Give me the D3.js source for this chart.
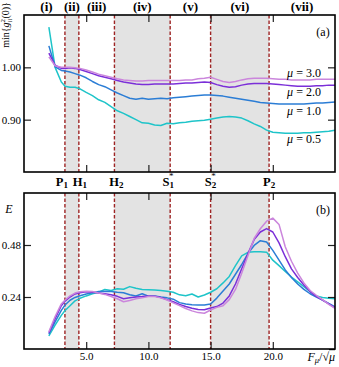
<!DOCTYPE html>
<html>
<head>
<meta charset="utf-8">
<script src="https://cdn.jsdelivr.net/npm/d3@7"></script>
<style>
  body { margin: 0; background: #fff; }
  svg text { font-family: "Liberation Serif", "DejaVu Serif", serif; fill: #000; }
</style>
</head>
<body>
<svg id="chart" width="339" height="367"></svg>
<script>
// shared abscissa F_mu / sqrt(mu)
const force = [2.0, 2.5, 3.0, 3.3, 3.7, 4.1, 4.5, 5.0, 5.5, 6.0, 6.5, 7.0, 7.5, 8.0, 8.5, 9.0,
  9.5, 10.0, 10.5, 11.0, 11.5, 12.0, 12.5, 13.0, 13.5, 14.0, 14.5, 15.0, 15.5, 16.0, 16.5, 17.0,
  17.5, 18.0, 18.5, 19.0, 19.5, 20.0, 20.5, 21.0, 21.5, 22.0, 22.5, 23.0, 23.5, 24.0, 24.5, 25.0];

const muLabels = ['0.5', '1.0', '2.0', '3.0'];

// panel (a): min{g2_ii(0)}
const gMu05 = [1.077, 1.000, 0.972, 0.964, 0.962, 0.962, 0.959, 0.952, 0.946, 0.938, 0.933, 0.925, 0.917, 0.912, 0.906, 0.900,
  0.894, 0.893, 0.890, 0.889, 0.893, 0.892, 0.894, 0.895, 0.897, 0.898, 0.899, 0.901, 0.903, 0.905, 0.906, 0.905,
  0.903, 0.898, 0.892, 0.887, 0.880, 0.876, 0.875, 0.874, 0.874, 0.874, 0.875, 0.875, 0.876, 0.877, 0.878, 0.880];
const gMu10 = [1.041, 1.001, 0.994, 0.993, 0.991, 0.988, 0.985, 0.980, 0.973, 0.967, 0.963, 0.957, 0.951, 0.946, 0.941, 0.939,
  0.941, 0.939, 0.940, 0.941, 0.940, 0.942, 0.943, 0.944, 0.945, 0.946, 0.947, 0.947, 0.946, 0.945, 0.943, 0.941,
  0.939, 0.937, 0.935, 0.933, 0.932, 0.931, 0.930, 0.930, 0.930, 0.930, 0.930, 0.931, 0.932, 0.932, 0.933, 0.934];
const gMu20 = [1.027, 1.004, 0.998, 0.998, 0.999, 0.998, 0.996, 0.992, 0.988, 0.984, 0.981, 0.978, 0.975, 0.972, 0.970, 0.968,
  0.967, 0.967, 0.968, 0.968, 0.968, 0.968, 0.969, 0.970, 0.970, 0.971, 0.972, 0.971, 0.967, 0.964, 0.962, 0.963,
  0.966, 0.968, 0.969, 0.969, 0.969, 0.968, 0.967, 0.966, 0.965, 0.964, 0.964, 0.964, 0.965, 0.965, 0.966, 0.966];
const gMu30 = [1.020, 1.003, 1.000, 1.000, 1.000, 0.999, 0.998, 0.995, 0.991, 0.987, 0.984, 0.981, 0.978, 0.976, 0.975, 0.974,
  0.974, 0.975, 0.975, 0.975, 0.975, 0.975, 0.975, 0.976, 0.976, 0.978, 0.979, 0.981, 0.977, 0.973, 0.971, 0.973,
  0.976, 0.978, 0.979, 0.979, 0.979, 0.978, 0.977, 0.977, 0.976, 0.976, 0.976, 0.976, 0.977, 0.977, 0.977, 0.977];

// panel (b): E
const eMu05 = [0.060, 0.110, 0.155, 0.178, 0.200, 0.222, 0.234, 0.245, 0.255, 0.262, 0.275, 0.270, 0.278, 0.276, 0.288, 0.280,
  0.275, 0.274, 0.272, 0.270, 0.267, 0.262, 0.250, 0.246, 0.254, 0.240, 0.249, 0.262, 0.278, 0.305, 0.335, 0.385,
  0.430, 0.446, 0.449, 0.449, 0.447, 0.410, 0.385, 0.358, 0.332, 0.310, 0.288, 0.265, 0.245, 0.238, 0.234, 0.232];
const eMu10 = [0.068, 0.125, 0.178, 0.203, 0.225, 0.238, 0.246, 0.254, 0.260, 0.265, 0.266, 0.265, 0.262, 0.260, 0.250, 0.245,
  0.255, 0.244, 0.245, 0.240, 0.236, 0.230, 0.214, 0.208, 0.204, 0.203, 0.203, 0.208, 0.235, 0.268, 0.300, 0.345,
  0.390, 0.440, 0.478, 0.500, 0.494, 0.455, 0.410, 0.365, 0.330, 0.300, 0.275, 0.255, 0.240, 0.226, 0.210, 0.195];
const eMu20 = [0.075, 0.140, 0.200, 0.221, 0.240, 0.254, 0.260, 0.264, 0.262, 0.258, 0.255, 0.250, 0.243, 0.232, 0.236, 0.240,
  0.242, 0.245, 0.244, 0.238, 0.228, 0.218, 0.206, 0.196, 0.188, 0.182, 0.181, 0.189, 0.196, 0.212, 0.245, 0.300,
  0.370, 0.440, 0.505, 0.540, 0.556, 0.540, 0.490, 0.426, 0.370, 0.330, 0.295, 0.265, 0.243, 0.226, 0.208, 0.190];
const eMu30 = [0.080, 0.150, 0.208, 0.226, 0.245, 0.258, 0.264, 0.267, 0.265, 0.258, 0.252, 0.242, 0.232, 0.218, 0.224, 0.232,
  0.236, 0.242, 0.242, 0.236, 0.226, 0.213, 0.200, 0.187, 0.176, 0.168, 0.165, 0.180, 0.192, 0.200, 0.228, 0.275,
  0.350, 0.430, 0.510, 0.555, 0.590, 0.604, 0.575, 0.472, 0.405, 0.350, 0.305, 0.270, 0.248, 0.228, 0.206, 0.187];

// region boundaries and labels
const boundaries = [3.29, 4.41, 7.27, 11.75, 15.0, 19.7];
const shadedRegions = [[3.29, 4.41], [7.27, 11.75], [15.0, 19.7]];
const regionLabels = ['(i)', '(ii)', '(iii)', '(iv)', '(v)', '(vi)', '(vii)'];
const pointLabels = [
  { base: 'P', sub: '1', star: false, x: 3.29, shift: -3 },
  { base: 'H', sub: '1', star: false, x: 4.41, shift: 1 },
  { base: 'H', sub: '2', star: false, x: 7.27, shift: 2 },
  { base: 'S', sub: '1', star: true, x: 11.75, shift: -2 },
  { base: 'S', sub: '2', star: true, x: 15.0, shift: 0 },
  { base: 'P', sub: '2', star: false, x: 19.7, shift: 0 }
];

const xTicks = [5, 10, 15, 20];
const gTicks = [0.9, 1.0];
const eTicks = [0.24, 0.48];

const colors = ['#1ec4c9', '#2b7dd5', '#7b2fd8', '#cb86dc'];

const svg = d3.select('#chart');
const left = 24, right = 335;

const x = d3.scaleLinear().domain([0, 25]).range([left, right]);
const yA = d3.scaleLinear().domain([0.8, 1.1]).range([172, 15]);
const yB = d3.scaleLinear().domain([0, 0.72]).range([349, 193]);

function panel(id, y, series, ticks, showX) {
  const top = y.range()[1], bottom = y.range()[0];
  const g = svg.append('g');

  g.append('clipPath').attr('id', id)
    .append('rect')
    .attr('x', left).attr('y', top)
    .attr('width', right - left).attr('height', bottom - top);

  g.selectAll('rect.shade')
    .data(shadedRegions)
    .enter()
    .append('rect')
    .attr('class', 'shade')
    .attr('x', (d) => x(d[0]))
    .attr('y', top)
    .attr('width', (d) => x(d[1]) - x(d[0]))
    .attr('height', bottom - top)
    .attr('fill', '#e3e3e3');

  g.selectAll('line.bound')
    .data(boundaries)
    .enter()
    .append('line')
    .attr('class', 'bound')
    .attr('x1', (d) => x(d)).attr('x2', (d) => x(d))
    .attr('y1', top).attr('y2', bottom)
    .attr('stroke', '#9e2424')
    .attr('stroke-width', 1.4)
    .attr('stroke-dasharray', '3.5,2');

  const line = d3.line()
    .x((d, i) => x(force[i]))
    .y((d) => y(d));

  g.append('g')
    .attr('clip-path', `url(#${id})`)
    .selectAll('path')
    .data(series)
    .enter()
    .append('path')
    .attr('d', line)
    .attr('fill', 'none')
    .attr('stroke', (d, i) => colors[i])
    .attr('stroke-width', 1.5)
    .attr('stroke-linejoin', 'round');

  const yl = g.append('g')
    .attr('transform', `translate(${left}, 0)`)
    .call(d3.axisLeft(y).tickValues(ticks).tickFormat(d3.format('.2f')).tickSize(-7).tickPadding(3));
  const yr = g.append('g')
    .attr('transform', `translate(${right}, 0)`)
    .call(d3.axisRight(y).tickValues(ticks).tickFormat('').tickSize(-7));
  const xt = g.append('g')
    .attr('transform', `translate(0, ${top})`)
    .call(d3.axisTop(x).tickValues(xTicks).tickFormat('').tickSize(-7));
  const xb = g.append('g')
    .attr('transform', `translate(0, ${bottom})`)
    .call(d3.axisBottom(x).tickValues(xTicks).tickFormat(showX ? d3.format('.1f') : '').tickSize(-7).tickPadding(3));

  [yl, yr, xt, xb].forEach((a) => {
    a.select('.domain').remove();
    a.selectAll('line').attr('stroke', '#222').attr('stroke-width', 1.2);
    a.selectAll('text')
      .attr('font-family', '"Liberation Serif", serif')
      .attr('font-size', 11)
      .attr('fill', '#000');
  });

  g.append('rect')
    .attr('x', left).attr('y', top)
    .attr('width', right - left).attr('height', bottom - top)
    .attr('fill', 'none')
    .attr('stroke', '#000')
    .attr('stroke-width', 1.6);
}

panel('clipA', yA, [gMu05, gMu10, gMu20, gMu30], gTicks, false);
panel('clipB', yB, [eMu05, eMu10, eMu20, eMu30], eTicks, true);

// region labels above panel (a)
const edges = [0].concat(boundaries, [25]);
svg.selectAll('text.region')
  .data(regionLabels)
  .enter()
  .append('text')
  .attr('class', 'region')
  .attr('x', (d, i) => (x(edges[i]) + x(edges[i + 1])) / 2 + (i === 0 ? 2 : 0))
  .attr('y', 11)
  .attr('text-anchor', 'middle')
  .attr('font-size', 13)
  .attr('font-weight', 'bold')
  .text((d) => d);

// transition point labels between panels
const pl = svg.selectAll('text.point')
  .data(pointLabels)
  .enter()
  .append('text')
  .attr('class', 'point')
  .attr('x', (d) => x(d.x) + d.shift)
  .attr('y', 186)
  .attr('text-anchor', 'middle')
  .attr('font-size', 12.5)
  .attr('font-weight', 'bold');
pl.append('tspan').text((d) => d.base);
pl.append('tspan').attr('font-size', 9).attr('dy', 2).text((d) => d.sub);
pl.filter((d) => d.star)
  .append('tspan').attr('font-size', 9).attr('dx', -5).attr('dy', -9).attr('font-weight', 'normal').text('*');

// mu labels
const muY = [139, 111, 92, 73];
const ml = svg.selectAll('text.mu')
  .data(muLabels)
  .enter()
  .append('text')
  .attr('class', 'mu')
  .attr('x', 304)
  .attr('y', (d, i) => muY[i] + 4)
  .attr('text-anchor', 'middle')
  .attr('font-size', 12);
ml.append('tspan').attr('font-style', 'italic').text('μ');
ml.append('tspan').text((d) => ' = ' + d);

// panel tags
svg.append('text').attr('x', 323).attr('y', 36).attr('text-anchor', 'middle').attr('font-size', 12).text('(a)');
svg.append('text').attr('x', 323).attr('y', 214).attr('text-anchor', 'middle').attr('font-size', 12).text('(b)');

// y labels
const yLab = svg.append('text')
  .attr('transform', 'translate(9, 25) rotate(-90)')
  .attr('text-anchor', 'middle')
  .attr('font-size', 10);
yLab.append('tspan').text('min{');
yLab.append('tspan').attr('font-style', 'italic').text('g');
yLab.append('tspan').attr('font-size', 7).attr('dy', -4).text('2');
yLab.append('tspan').attr('font-size', 7).attr('font-style', 'italic').attr('dx', -3.5).attr('dy', 6.5).text('ii');
yLab.append('tspan').attr('dy', -2.5).text('(0)}');

svg.append('text')
  .attr('x', 9).attr('y', 213)
  .attr('text-anchor', 'middle')
  .attr('font-size', 12)
  .attr('font-style', 'italic')
  .text('E');

// x label
const xLab = svg.append('text')
  .attr('x', 335).attr('y', 361)
  .attr('text-anchor', 'end')
  .attr('font-size', 12);
xLab.append('tspan').attr('font-style', 'italic').text('F');
xLab.append('tspan').attr('font-style', 'italic').attr('font-size', 8.5).attr('dy', 2).text('μ');
xLab.append('tspan').attr('dy', -2).text('/√');
xLab.append('tspan').attr('font-style', 'italic').attr('text-decoration', 'overline').text('μ');
</script>
</body>
</html>
